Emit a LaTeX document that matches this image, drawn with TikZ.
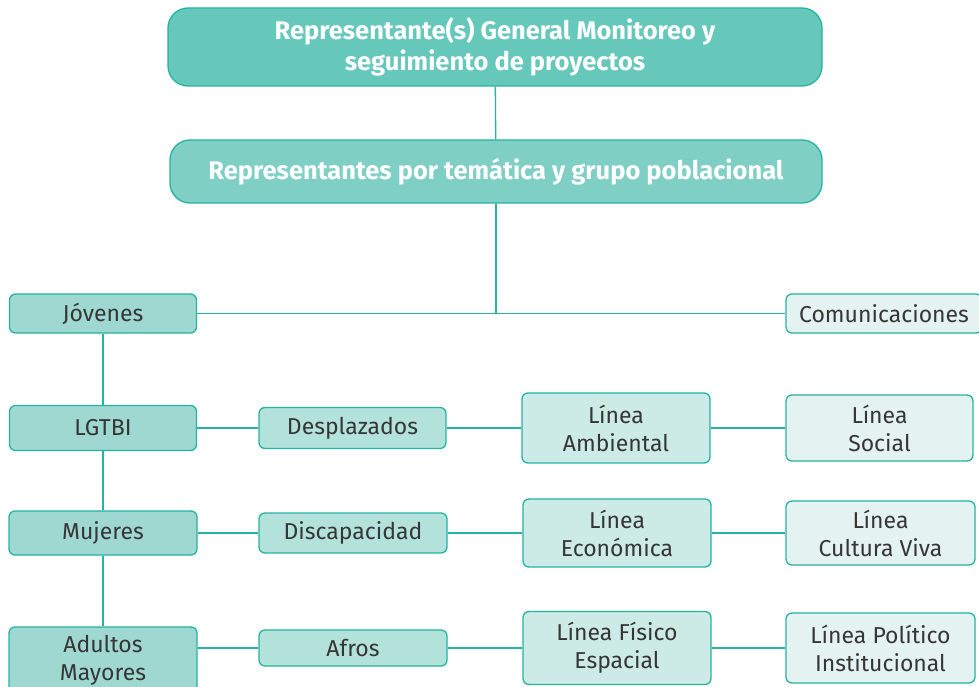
\documentclass[tikz,border=0pt]{standalone}
\usepackage{fontspec}
\setmainfont{Fira Sans}
\usetikzlibrary{calc}
\definecolor{lineteal}{HTML}{26B3A2}
\definecolor{txtgray}{HTML}{363636}
\definecolor{filltop}{HTML}{66C7BB}
\definecolor{filltem}{HTML}{80CFC5}
\definecolor{fillgrp}{HTML}{9ED8D0}
\definecolor{fillsub}{HTML}{B3E2DB}
\definecolor{filllin}{HTML}{CCEAE6}
\definecolor{filllight}{HTML}{E4F3F1}
\tikzset{linea/.style={lineteal,line width=1.3pt},
         cajita/.style={draw=lineteal,line width=1.3pt,rounded corners=6pt,
                        text=txtgray,align=center,inner sep=0pt,
                        font=\fontsize{23}{28}\selectfont},
         cajagrande/.style={cajita,rounded corners=20pt,text=white,
                        font=\fontsize{25.5}{31}\selectfont\bfseries}
    }

\begin{document}
\begin{tikzpicture}[x=1pt,y=-1pt]
                \clip (0,0) rectangle (979,687);
                \fill[white] (0,0) rectangle (979,687);

                \node[cajagrande,fill=filltop,minimum width=654pt,minimum height=78pt] (general) at (495,47) {Representante(s) General Monitoreo y\\seguimiento de proyectos};
                \node[cajagrande,fill=filltem,minimum width=652pt,minimum height=63pt] (tematica) at (496,171.5) {Representantes por temática y grupo poblacional};

                \node[cajita,fill=fillgrp,minimum width=187pt,minimum height=39pt] (jovenes) at (103,313.5) {Jóvenes};
                \node[cajita,fill=filllight,minimum width=196pt,minimum height=39pt] (comunic) at (884,313.5) {Comunicaciones};

                \node[cajita,fill=fillgrp,minimum width=187pt,minimum height=45pt] (lgtbi) at (103,428) {LGTBI};
                \node[cajita,fill=fillsub,minimum width=187pt,minimum height=41pt] (desplaz) at (352.5,428) {Desplazados};
                \node[cajita,fill=filllin,minimum width=188pt,minimum height=70pt] (ambiental) at (616,428) {Línea\\Ambiental};
                \node[cajita,fill=filllight,minimum width=187pt,minimum height=66pt] (social) at (879.5,428) {Línea\\Social};

                \node[cajita,fill=fillgrp,minimum width=188pt,minimum height=44pt] (mujeres) at (103,533) {Mujeres};
                \node[cajita,fill=fillsub,minimum width=188pt,minimum height=40pt] (discap) at (353,533) {Discapacidad};
                \node[cajita,fill=filllin,minimum width=188pt,minimum height=68pt] (economica) at (617,533) {Línea\\Económica};
                \node[cajita,fill=filllight,minimum width=189pt,minimum height=64pt] (cultura) at (880.5,533) {Línea\\Cultura Viva};

                \node[cajita,fill=fillgrp,minimum width=188pt,minimum height=66pt] (adultos) at (103,660) {Adultos\\Mayores};
                \node[cajita,fill=fillsub,minimum width=188pt,minimum height=36pt] (afros) at (353,648) {Afros};
                \node[cajita,fill=filllin,minimum width=188pt,minimum height=73pt] (fisico) at (617,648) {Línea Físico\\Espacial};
                \node[cajita,fill=filllight,minimum width=189pt,minimum height=70pt] (politico) at (880.5,648) {Línea Político\\Institucional};

                \draw[linea] (general) -- (tematica);
                \draw[linea] (tematica.south) -- (tematica.south |- jovenes.east);
                \draw[linea] (jovenes) -- (comunic);
                \draw[linea] (jovenes) -- (lgtbi);
                \draw[linea] (lgtbi) -- (mujeres);
                \draw[linea] (mujeres) -- (adultos);
                \draw[linea] (lgtbi) -- (desplaz) -- (ambiental) -- (social);
                \draw[linea] (mujeres) -- (discap) -- (economica) -- (cultura);
                \draw[linea] (adultos.east |- afros) -- (afros) -- (fisico) -- (politico);
            \end{tikzpicture}
\end{document}
